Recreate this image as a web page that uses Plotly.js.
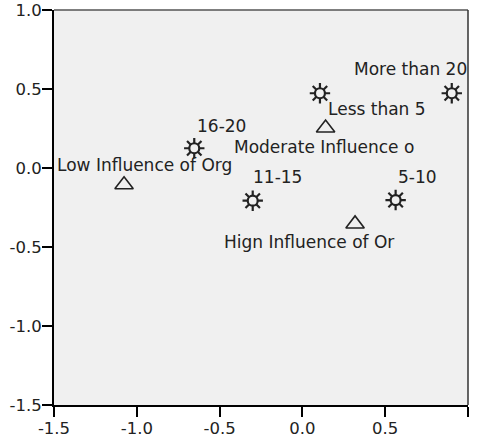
<!DOCTYPE html>
<html>
<head>
<meta charset="utf-8">
<script src="https://cdn.plot.ly/plotly-3.0.1.min.js"></script>
<style>html,body{margin:0;padding:0;background:#fff;}#chart{width:480px;height:440px;}</style>
</head>
<body>
<div id="chart"></div>
<script>
// Category points (years group) - star markers
const starLabels = ["Less than 5", "5-10", "11-15", "16-20", "More than 20"];
const starX = [0.106, 0.563, -0.300, -0.653, 0.902];
const starY = [0.473, -0.203, -0.207, 0.125, 0.473];

// Category points (influence group) - triangle markers
const triLabels = ["Low Influence of Org", "Moderate Influence o", "Hign Influence of Or"];
const triX = [-1.077, 0.140, 0.318];
const triY = [-0.106, 0.253, -0.354];

// Axis ticks
const tickVals = [-1.5, -1.0, -0.5, 0.0, 0.5, 1.0];
const tickText = ["-1.5", "-1.0", "-0.5", "0.0", "0.5", "1.0"];

// Label pixel offsets (style only)
const starLabelOffsets = [[57, -16], [22, 23], [25, 24], [27, 22], [-41, 24]];
const triLabelOffsets = [[20, 20], [-2, -19], [-46, -18]];

const ink = "#222";
const fontFam = "DejaVu Sans, Arial, sans-serif";

const traces = [
  {
    x: starX, y: starY, type: "scatter", mode: "markers",
    marker: { symbol: "asterisk-open", size: 17, color: ink, line: { color: ink, width: 2.2 } },
    hoverinfo: "skip", showlegend: false
  },
  {
    x: starX, y: starY, type: "scatter", mode: "markers",
    marker: { symbol: "circle", size: 10, color: "#f0f0f0", line: { color: ink, width: 2.2 } },
    text: starLabels, showlegend: false
  },
  {
    x: triX, y: triY, type: "scatter", mode: "markers",
    marker: { symbol: "triangle-up-open", size: 16, color: ink, line: { color: ink, width: 1.6 } },
    text: triLabels, showlegend: false
  }
];

const annotations = [];
starLabels.forEach((t, i) => annotations.push({
  x: starX[i], y: starY[i], xref: "x", yref: "y", text: t, showarrow: false,
  xanchor: "center", yanchor: "middle",
  xshift: starLabelOffsets[i][0], yshift: starLabelOffsets[i][1],
  font: { family: fontFam, size: 17, color: ink }
}));
triLabels.forEach((t, i) => annotations.push({
  x: triX[i], y: triY[i], xref: "x", yref: "y", text: t, showarrow: false,
  xanchor: "center", yanchor: "middle",
  xshift: triLabelOffsets[i][0], yshift: triLabelOffsets[i][1],
  font: { family: fontFam, size: 17, color: ink }
}));

const axisCommon = {
  range: [-1.5, 1.0], tickmode: "array", tickvals: tickVals, ticktext: tickText,
  showgrid: false, zeroline: false, showline: true, linecolor: "#000", linewidth: 2,
  ticks: "outside", ticklen: 10, tickwidth: 2, tickcolor: "#000",
  tickfont: { family: fontFam, size: 16.5, color: ink }, fixedrange: true
};

const layout = {
  width: 480, height: 440,
  margin: { l: 54, r: 12, t: 10, b: 35 },
  paper_bgcolor: "#ffffff", plot_bgcolor: "#f0f0f0",
  xaxis: Object.assign({}, axisCommon, { ticklabelstandoff: -3 }),
  yaxis: Object.assign({}, axisCommon, { ticklabelstandoff: -3 }),
  annotations: annotations,
  shapes: [
    { type: "line", xref: "paper", yref: "paper", x0: 0, x1: 1, y0: 1, y1: 1, line: { color: "#555", width: 1.5 } },
    { type: "line", xref: "paper", yref: "paper", x0: 1, x1: 1, y0: 0, y1: 1, line: { color: "#333", width: 1.5 } }
  ],
  showlegend: false
};

Plotly.newPlot("chart", traces, layout, { displayModeBar: false, staticPlot: true });
</script>
</body>
</html>
